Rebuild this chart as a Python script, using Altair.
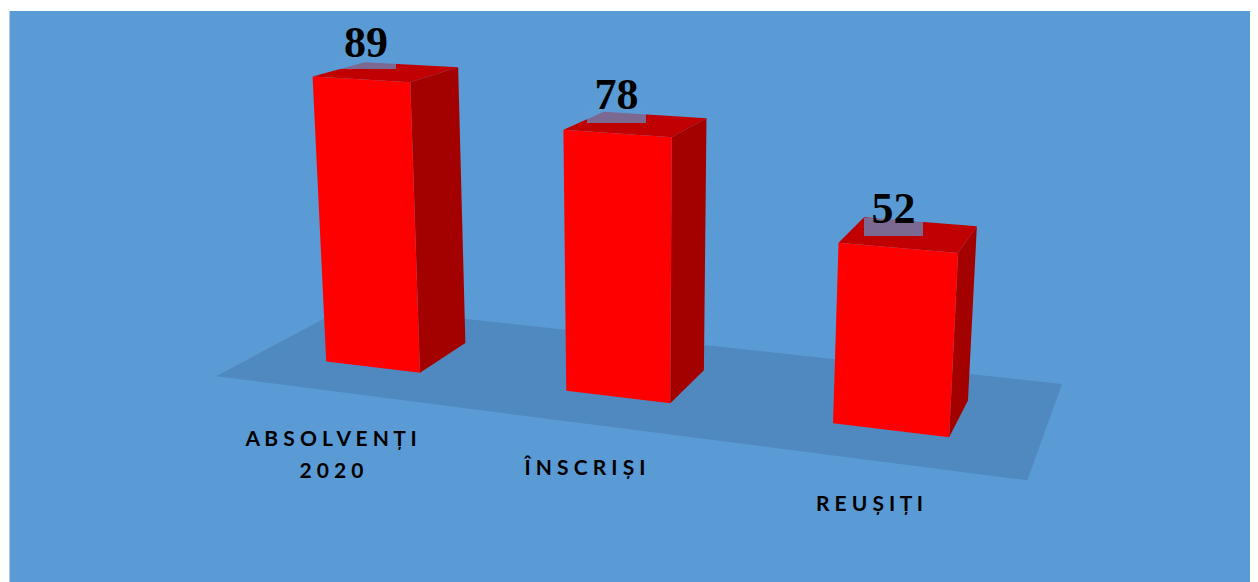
import numpy as np
import pandas as pd
import altair as alt

# Chart values
categories = ["ABSOLVENȚI 2020", "ÎNSCRIȘI", "REUȘIȚI"]
values = [89, 78, 52]

# Category axis labels, as drawn (wide letter-spacing, one row per line)
SP = " "
label_rows = [SP.join("ABSOLVENȚI"), SP.join("2020"), SP.join("ÎNSCRIȘI"), SP.join("REUȘIȚI")]
label_x = [331, 331.5, 585, 869.5]
label_y = [446, 478, 475, 511]

# Data-label anchors and their translucent plates
value_label_x = [366, 616.5, 893.5]
value_label_y = [57, 109, 223]
plate_x = [338, 587, 864]
plate_x2 = [396, 646, 923]
plate_y = [51, 105, 218]
plate_y2 = [69, 123, 236]

# Perspective camera of the 3-D scene: (category, value, depth) -> picture position
CAMERA = np.array([
    [213.8602, -0.3036787, 231.6725, 372.6237],
    [9.815703, -3.271009, -33.73574, 367.048],
    [-0.0505848, -0.0004766384, 0.1829349, 1.0],
])
BAR_WIDTH = 0.4029
BAR_DEPTH = 0.3066
FLOOR_X = (-0.5, 2.501)
FLOOR_Z = (-0.23, 0.54)
PAGE_W, PAGE_H = 1250, 582


def project(x, y, z):
    h = CAMERA @ np.array([x, y, z, 1.0])
    return h[0] / h[2], h[1] / h[2]


rows = []


def face(fid, kind, corners):
    for k, c in enumerate(corners):
        px, py = project(*c)
        rows.append({"fid": fid, "kind": kind, "k": k, "px": px, "py": py})


face("00", "floor", [(FLOOR_X[0], 0, FLOOR_Z[0]), (FLOOR_X[1], 0, FLOOR_Z[0]),
                     (FLOOR_X[1], 0, FLOOR_Z[1]), (FLOOR_X[0], 0, FLOOR_Z[1])])
for i, v in enumerate(values):
    x0, x1 = i - BAR_WIDTH / 2, i + BAR_WIDTH / 2
    d = BAR_DEPTH
    face(f"{i+1}a", "side", [(x1, 0, 0), (x1, 0, d), (x1, v, d), (x1, v, 0)])
    face(f"{i+1}b", "top", [(x0, v, 0), (x1, v, 0), (x1, v, d), (x0, v, d)])
    face(f"{i+1}c", "front", [(x0, 0, 0), (x1, 0, 0), (x1, v, 0), (x0, v, 0)])
faces = pd.DataFrame(rows)

x_scale = alt.Scale(domain=[8, PAGE_W], nice=False, zero=False)
y_scale = alt.Scale(domain=[PAGE_H, 8], nice=False, zero=False)
X = alt.X("px:Q", scale=x_scale, axis=None)
Y = alt.Y("py:Q", scale=y_scale, axis=None)

panel = alt.Chart(pd.DataFrame({"px": [9.5], "px2": [PAGE_W], "py": [11], "py2": [PAGE_H]})).mark_rect(
    color="#5b9bd5").encode(x=X, x2="px2:Q", y=Y, y2="py2:Q")

polys = alt.Chart(faces).mark_line(filled=True, interpolate="linear-closed", strokeWidth=0).encode(
    x=X, y=Y, order="k:Q", detail="fid:N",
    fill=alt.Fill("kind:N", legend=None, scale=alt.Scale(
        domain=["floor", "side", "top", "front"],
        range=["#5089c0", "#a30000", "#c00000", "#ff0000"])),
)

plates = alt.Chart(pd.DataFrame({"px": plate_x, "px2": plate_x2, "py": plate_y, "py2": plate_y2})).mark_rect(
    color="#5b9bd5", opacity=0.68).encode(x=X, x2="px2:Q", y=Y, y2="py2:Q")

value_text = alt.Chart(pd.DataFrame({"px": value_label_x, "py": value_label_y, "t": values})).mark_text(
    font="Liberation Serif", fontWeight="bold", fontSize=44, color="#000000", align="center", baseline="alphabetic"
).encode(x=X, y=Y, text="t:Q")

axis_text = alt.Chart(pd.DataFrame({"px": label_x, "py": label_y, "t": label_rows})).mark_text(
    font="Lato", fontWeight="bold", fontSize=21, color="#000000", align="center", baseline="alphabetic"
).encode(x=X, y=Y, text="t:N")

chart = alt.layer(panel, polys, plates, value_text, axis_text).properties(
    width=PAGE_W - 8, height=PAGE_H - 8, padding=0, autosize=alt.AutoSizeParams(type="none"), background="#ffffff"
).configure_view(stroke=None)

chart.save("out.html", embed_options={"renderer": "svg", "actions": False})
